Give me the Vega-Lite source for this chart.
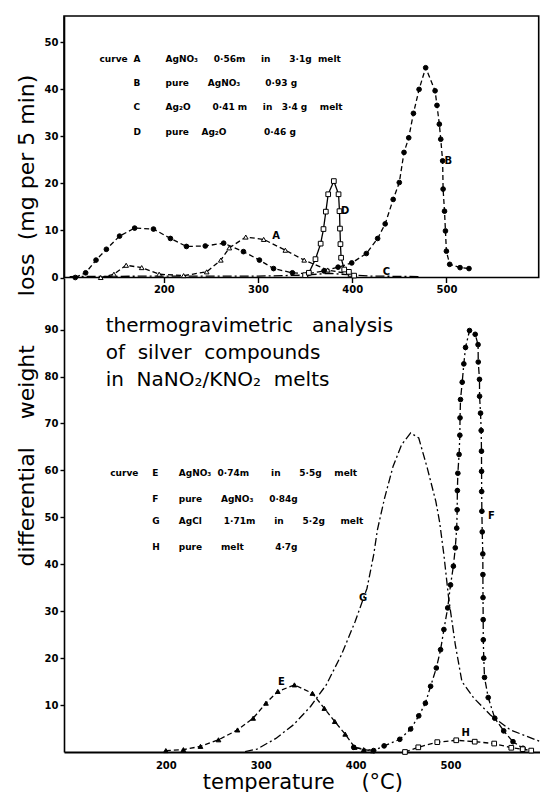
{
  "$schema": "https://vega.github.io/schema/vega-lite/v6.json",
  "padding": {"left": 14, "top": 15, "right": 0, "bottom": 0},
  "background": "white",
  "bounds": "flush",
  "spacing": 0,
  "resolve": {"scale": {"fill": "independent", "shape": "independent", "strokeDash": "independent", "x": "independent", "y": "independent"}},
  "config": {
    "view": {"stroke": null},
    "font": "DejaVu Sans",
    "axis": {"domainColor": "black", "domainWidth": 1.6, "tickColor": "black", "tickWidth": 1.4, "labelColor": "black", "labelFont": "DejaVu Sans", "labelFontWeight": "bold", "labelFontSize": 10, "titleColor": "black", "titleFont": "DejaVu Sans", "titleFontWeight": "normal", "titleFontSize": 22, "grid": false, "labelFlush": false, "labelOverlap": false}
  },
  "datasets": {
    "top": [
      {"c":"A","t":133,"v":0},{"c":"A","t":147,"v":0.7},{"c":"A","t":160,"v":2.6},{"c":"A","t":176.5,"v":2.1},{"c":"A","t":195,"v":0.7},{"c":"A","t":221,"v":0.4},{"c":"A","t":245.5,"v":1.2},{"c":"A","t":260.5,"v":3.7},{"c":"A","t":269.5,"v":6.3},{"c":"A","t":287,"v":8.6},{"c":"A","t":306,"v":8.1},{"c":"A","t":329,"v":5.8},{"c":"A","t":349,"v":3.7},{"c":"A","t":374,"v":1.6},{"c":"A","t":398,"v":0.7},
      {"c":"B","t":106,"v":0},{"c":"B","t":117,"v":1.0},{"c":"B","t":128,"v":3.7},{"c":"B","t":139,"v":6.0},{"c":"B","t":153,"v":8.8},{"c":"B","t":169,"v":10.5},{"c":"B","t":189,"v":10.3},{"c":"B","t":207,"v":8.3},{"c":"B","t":224,"v":6.6},{"c":"B","t":244,"v":6.7},{"c":"B","t":263.5,"v":7.3},{"c":"B","t":284.5,"v":5.5},{"c":"B","t":301.5,"v":3.7},{"c":"B","t":316.5,"v":1.9},{"c":"B","t":336.5,"v":1.0},{"c":"B","t":353,"v":0.8},{"c":"B","t":370,"v":1.4},{"c":"B","t":385,"v":2.2},{"c":"B","t":399.5,"v":3.1},{"c":"B","t":415,"v":5.1},{"c":"B","t":427,"v":8.3},{"c":"B","t":435,"v":11.4},{"c":"B","t":443.5,"v":16.6},{"c":"B","t":450,"v":20.2},{"c":"B","t":455,"v":26.6},{"c":"B","t":460,"v":29.7},{"c":"B","t":465,"v":34.9},{"c":"B","t":471,"v":40.0},{"c":"B","t":478,"v":44.6},{"c":"B","t":488,"v":39.7},{"c":"B","t":490,"v":36.6},{"c":"B","t":492.5,"v":32.6},{"c":"B","t":494,"v":29.4},{"c":"B","t":496,"v":24.8},{"c":"B","t":496.5,"v":18.8},{"c":"B","t":498,"v":14.1},{"c":"B","t":499,"v":9.9},{"c":"B","t":500,"v":5.6},{"c":"B","t":503.5,"v":2.8},{"c":"B","t":514.5,"v":2.1},{"c":"B","t":524,"v":1.9},
      {"c":"C","t":100,"v":0.2},{"c":"C","t":200,"v":0.3},{"c":"C","t":300,"v":0.3},{"c":"C","t":350,"v":0.5},{"c":"C","t":375,"v":0.9},{"c":"C","t":395,"v":0.6},{"c":"C","t":420,"v":0.3},{"c":"C","t":472,"v":0.2},
      {"c":"D","t":350,"v":0.5},{"c":"D","t":354,"v":1.0},{"c":"D","t":361,"v":3.9},{"c":"D","t":366.5,"v":7.2},{"c":"D","t":369.5,"v":10.3},{"c":"D","t":372,"v":14.0},{"c":"D","t":374.5,"v":17.7},{"c":"D","t":380.5,"v":20.5},{"c":"D","t":385.5,"v":17.7},{"c":"D","t":386.5,"v":14.1},{"c":"D","t":387,"v":10.4},{"c":"D","t":387.5,"v":7.1},{"c":"D","t":388.2,"v":4.2},{"c":"D","t":391.5,"v":1.7},{"c":"D","t":396.5,"v":1.2},{"c":"D","t":402,"v":0.4}
    ],
    "bottom": [
      {"c":"E","t":200,"v":0.3},{"c":"E","t":218.5,"v":0.5},{"c":"E","t":236.5,"v":1.2},{"c":"E","t":255.5,"v":2.6},{"c":"E","t":275.5,"v":4.7},{"c":"E","t":292,"v":7.2},{"c":"E","t":305.5,"v":10.4},{"c":"E","t":318,"v":12.9},{"c":"E","t":335.5,"v":14.3},{"c":"E","t":354.5,"v":12.5},{"c":"E","t":367,"v":9.3},{"c":"E","t":378,"v":6.5},{"c":"E","t":389,"v":3.8},{"c":"E","t":399,"v":1.0},{"c":"E","t":408.5,"v":0.5},{"c":"E","t":418,"v":0.25},
      {"c":"F","t":398,"v":1.0},{"c":"F","t":419,"v":0.3},{"c":"F","t":430,"v":1.3},{"c":"F","t":446.5,"v":2.7},{"c":"F","t":458,"v":4.9},{"c":"F","t":466.5,"v":7.7},{"c":"F","t":473.5,"v":10.4},{"c":"F","t":479,"v":14.0},{"c":"F","t":485,"v":17.9},{"c":"F","t":489.5,"v":21.8},{"c":"F","t":493,"v":26.1},{"c":"F","t":497,"v":30.7},{"c":"F","t":500,"v":35.6},{"c":"F","t":503,"v":39.6},{"c":"F","t":505,"v":43.5},{"c":"F","t":506.5,"v":47.7},{"c":"F","t":507,"v":51.6},{"c":"F","t":507.2,"v":55.7},{"c":"F","t":507.7,"v":59.4},{"c":"F","t":509,"v":63.4},{"c":"F","t":509.8,"v":67.5},{"c":"F","t":510,"v":71.2},{"c":"F","t":510.5,"v":75.1},{"c":"F","t":512.3,"v":78.8},{"c":"F","t":514,"v":82.7},{"c":"F","t":515.8,"v":86.2},{"c":"F","t":520,"v":89.8},{"c":"F","t":526,"v":89.0},{"c":"F","t":529,"v":86.8},{"c":"F","t":529.2,"v":83.1},{"c":"F","t":530.5,"v":79.4},{"c":"F","t":530.6,"v":75.8},{"c":"F","t":531.6,"v":72.2},{"c":"F","t":532.3,"v":68.5},{"c":"F","t":532.6,"v":64.1},{"c":"F","t":532.7,"v":59.8},{"c":"F","t":532.8,"v":55.5},{"c":"F","t":533,"v":51.3},{"c":"F","t":533.4,"v":46.9},{"c":"F","t":534,"v":42.2},{"c":"F","t":534.1,"v":37.8},{"c":"F","t":534.2,"v":32.9},{"c":"F","t":534.4,"v":28.2},{"c":"F","t":534.5,"v":23.9},{"c":"F","t":535,"v":20.0},{"c":"F","t":535.8,"v":15.9},{"c":"F","t":539.7,"v":11.6},{"c":"F","t":546.6,"v":7.2},{"c":"F","t":556,"v":4.5},{"c":"F","t":565.8,"v":2.2},{"c":"F","t":576.3,"v":0.8},
      {"c":"G","t":283.5,"v":0.1},{"c":"G","t":296,"v":0.6},{"c":"G","t":316,"v":2.9},{"c":"G","t":334.5,"v":5.8},{"c":"G","t":352.5,"v":9.7},{"c":"G","t":369,"v":14.3},{"c":"G","t":385,"v":20.7},{"c":"G","t":399.5,"v":27.8},{"c":"G","t":412,"v":34.9},{"c":"G","t":419,"v":42.0},{"c":"G","t":423,"v":47.4},{"c":"G","t":430.5,"v":54.1},{"c":"G","t":439.5,"v":60.9},{"c":"G","t":448.5,"v":65.5},{"c":"G","t":458,"v":68.0},{"c":"G","t":466.5,"v":66.9},{"c":"G","t":475.5,"v":60.5},{"c":"G","t":484.5,"v":53.4},{"c":"G","t":488.5,"v":49.0},{"c":"G","t":493,"v":42.0},{"c":"G","t":498,"v":32.8},{"c":"G","t":505,"v":22.9},{"c":"G","t":512,"v":15.0},{"c":"G","t":524.5,"v":11.5},{"c":"G","t":542,"v":7.9},{"c":"G","t":563,"v":4.7},{"c":"G","t":595,"v":2.2},
      {"c":"H","t":452,"v":0},{"c":"H","t":466,"v":1.0},{"c":"H","t":486,"v":2.1},{"c":"H","t":506,"v":2.5},{"c":"H","t":525.5,"v":2.2},{"c":"H","t":546,"v":1.8},{"c":"H","t":564,"v":0.9},{"c":"H","t":576,"v":0.6},{"c":"H","t":585,"v":0.3}
    ],
    "topLegend": [
      {"t":131.7,"v":46.5,"txt":"curve"},
      {"t":167.8,"v":46.5,"txt":"A"},
      {"t":167.8,"v":41.3,"txt":"B"},
      {"t":167.8,"v":36.3,"txt":"C"},
      {"t":167.8,"v":31.0,"txt":"D"},
      {"t":201.8,"v":46.5,"txt":"AgNO₃\u00a0\u00a0\u00a0\u00a0\u00a00·56m\u00a0\u00a0\u00a0\u00a0\u00a0in\u00a0\u00a0\u00a0\u00a0\u00a0\u00a03·1g\u00a0\u00a0melt"},
      {"t":201.8,"v":41.3,"txt":"pure\u00a0\u00a0\u00a0\u00a0\u00a0\u00a0AgNO₃\u00a0\u00a0\u00a0\u00a0\u00a0\u00a0\u00a0\u00a00·93\u00a0g"},
      {"t":201.8,"v":36.3,"txt":"Ag₂O\u00a0\u00a0\u00a0\u00a0\u00a0\u00a0\u00a00·41\u00a0m\u00a0\u00a0\u00a0\u00a0\u00a0in\u00a0\u00a0\u00a03·4\u00a0g\u00a0\u00a0\u00a0\u00a0melt"},
      {"t":201.8,"v":31.0,"txt":"pure\u00a0\u00a0\u00a0\u00a0Ag₂O\u00a0\u00a0\u00a0\u00a0\u00a0\u00a0\u00a0\u00a0\u00a0\u00a0\u00a0\u00a00·46\u00a0g"}
    ],
    "topLabels": [
      {"t":319.3,"v":8.8,"txt":"A"},
      {"t":502,"v":24.8,"txt":"B"},
      {"t":436.3,"v":1.2,"txt":"C"},
      {"t":392.4,"v":14.1,"txt":"D"}
    ],
    "bottomLegend": [
      {"t":141.4,"v":59.4,"txt":"curve"},
      {"t":185.6,"v":59.4,"txt":"E"},
      {"t":185.6,"v":54.0,"txt":"F"},
      {"t":185.6,"v":49.3,"txt":"G"},
      {"t":185.6,"v":43.6,"txt":"H"},
      {"t":213.6,"v":59.4,"txt":"AgNO₃\u00a0\u00a00·74m\u00a0\u00a0\u00a0\u00a0\u00a0\u00a0\u00a0in\u00a0\u00a0\u00a0\u00a0\u00a0\u00a05·5g\u00a0\u00a0\u00a0\u00a0melt"},
      {"t":213.6,"v":54.0,"txt":"pure\u00a0\u00a0\u00a0\u00a0\u00a0\u00a0AgNO₃\u00a0\u00a0\u00a0\u00a0\u00a00·84g"},
      {"t":213.6,"v":49.3,"txt":"AgCl\u00a0\u00a0\u00a0\u00a0\u00a0\u00a0\u00a01·71m\u00a0\u00a0\u00a0\u00a0\u00a0\u00a0in\u00a0\u00a0\u00a0\u00a0\u00a0\u00a05·2g\u00a0\u00a0\u00a0\u00a0\u00a0melt"},
      {"t":213.6,"v":43.6,"txt":"pure\u00a0\u00a0\u00a0\u00a0\u00a0\u00a0melt\u00a0\u00a0\u00a0\u00a0\u00a0\u00a0\u00a0\u00a0\u00a0\u00a04·7g"}
    ],
    "bottomLabels": [
      {"t":321.7,"v":15.0,"txt":"E"},
      {"t":543,"v":50.2,"txt":"F"},
      {"t":407.8,"v":32.9,"txt":"G"},
      {"t":515.9,"v":4.0,"txt":"H"}
    ],
    "heading": [
      {"t":136.6,"v":89.6,"txt":"thermogravimetric\u00a0\u00a0\u00a0analysis\nof\u00a0\u00a0silver\u00a0\u00a0compounds\nin\u00a0\u00a0NaNO₂/KNO₂\u00a0\u00a0melts"}
    ]
  },
  "vconcat": [
    {
      "width": 474.7,
      "height": 261.5,
      "view": {"stroke": "black", "strokeWidth": 1.6},
      "encoding": {
        "x": {"field": "t", "type": "quantitative", "scale": {"domain": [94, 598], "nice": false, "zero": false},
              "axis": {"values": [200, 300, 400, 500], "domain": false, "tickSize": 5, "labelPadding": 2, "title": null}},
        "y": {"field": "v", "type": "quantitative", "scale": {"domain": [0, 55.6], "nice": false, "zero": false},
              "axis": {"values": [0, 10, 20, 30, 40, 50], "tickSize": 4, "labelPadding": 2, "title": "(mg per 5 min)", "titleX": -38, "titleY": 141, "titleBaseline": "middle"}}
      },
      "layer": [
        {"data": {"name": "top"}, "mark": {"type": "line", "stroke": "black", "strokeWidth": 1.3},
         "encoding": {"strokeDash": {"field": "c", "type": "nominal", "scale": {"domain": ["A", "B", "C", "D"], "range": [[5, 3], [5, 3], [9, 3, 2, 3], [1, 0]]}, "legend": null}}},
        {"data": {"name": "top"}, "transform": [{"filter": "datum.c != 'C'"}],
         "mark": {"type": "point", "filled": true, "stroke": "black", "strokeWidth": 1, "size": 22, "opacity": 1},
         "encoding": {"shape": {"field": "c", "type": "nominal", "scale": {"domain": ["A", "B", "D"], "range": ["triangle-up", "circle", "square"]}, "legend": null},
                      "fill": {"field": "c", "type": "nominal", "scale": {"domain": ["A", "B", "D"], "range": ["white", "black", "white"]}, "legend": null}}},
        {"data": {"name": "topLegend"}, "mark": {"type": "text", "align": "left", "baseline": "middle", "font": "DejaVu Sans", "fontWeight": "bold", "fontSize": 9, "color": "black"},
         "encoding": {"text": {"field": "txt"}}},
        {"data": {"name": "topLabels"}, "mark": {"type": "text", "align": "center", "baseline": "middle", "font": "DejaVu Sans", "fontWeight": "bold", "fontSize": 10, "color": "black"},
         "encoding": {"text": {"field": "txt"}}}
      ]
    },
    {
      "width": 476.7,
      "height": 474,
      "encoding": {
        "x": {"field": "t", "type": "quantitative", "scale": {"domain": [92.7, 595], "nice": false, "zero": false},
              "axis": {"values": [200, 300, 400, 500], "ticks": false, "labelPadding": 8, "domainWidth": 2, "title": "temperature\u00a0\u00a0\u00a0\u00a0(°C)", "titleY": 36, "titleFontSize": 21, "titleBaseline": "alphabetic"}},
        "y": {"field": "v", "type": "quantitative", "scale": {"domain": [0, 101], "nice": false, "zero": false},
              "axis": {"values": [10, 20, 30, 40, 50, 60, 70, 80, 90], "tickSize": 4, "labelPadding": 2, "title": "differential\u00a0\u00a0\u00a0\u00a0weight\u00a0\u00a0\u00a0\u00a0\u00a0\u00a0\u00a0loss", "titleX": -38, "titleY": 131.5, "titleBaseline": "middle"}}
      },
      "layer": [
        {"data": {"name": "bottom"}, "mark": {"type": "line", "stroke": "black", "strokeWidth": 1.3},
         "encoding": {"strokeDash": {"field": "c", "type": "nominal", "scale": {"domain": ["E", "F", "G", "H"], "range": [[5, 3], [7, 3, 2, 3], [8, 3, 2, 3], [5, 3]]}, "legend": null}}},
        {"data": {"name": "bottom"}, "transform": [{"filter": "datum.c != 'G'"}],
         "mark": {"type": "point", "filled": true, "stroke": "black", "strokeWidth": 1, "size": 22, "opacity": 1},
         "encoding": {"shape": {"field": "c", "type": "nominal", "scale": {"domain": ["E", "F", "H"], "range": ["triangle-up", "circle", "square"]}, "legend": null},
                      "fill": {"field": "c", "type": "nominal", "scale": {"domain": ["E", "F", "H"], "range": ["black", "black", "white"]}, "legend": null}}},
        {"data": {"name": "bottomLegend"}, "mark": {"type": "text", "align": "left", "baseline": "middle", "font": "DejaVu Sans", "fontWeight": "bold", "fontSize": 9, "color": "black"},
         "encoding": {"text": {"field": "txt"}}},
        {"data": {"name": "bottomLabels"}, "mark": {"type": "text", "align": "center", "baseline": "middle", "font": "DejaVu Sans", "fontWeight": "bold", "fontSize": 10, "color": "black"},
         "encoding": {"text": {"field": "txt"}}},
        {"data": {"name": "heading"}, "mark": {"type": "text", "align": "left", "baseline": "alphabetic", "font": "DejaVu Sans", "fontSize": 20, "lineHeight": 27, "lineBreak": "\n", "color": "black"},
         "encoding": {"text": {"field": "txt"}}}
      ]
    }
  ]
}
